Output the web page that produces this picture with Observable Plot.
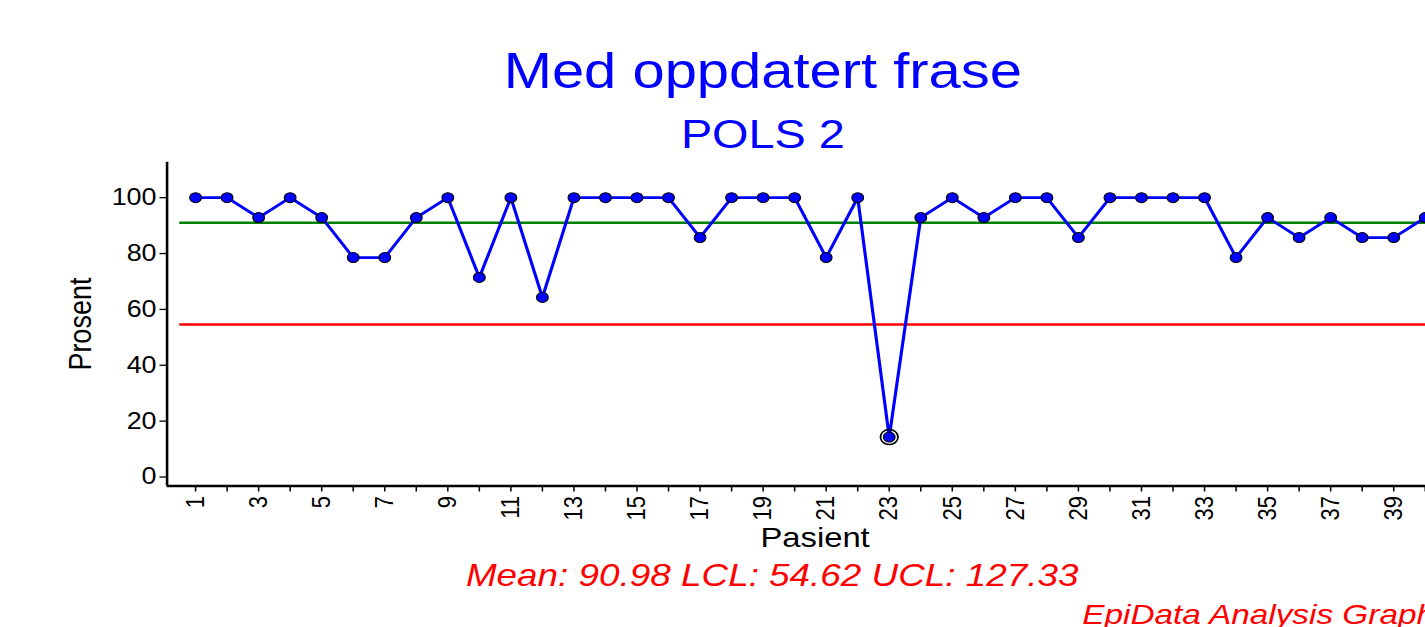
<!DOCTYPE html>
<html>
<head>
<meta charset="utf-8">
<script src="https://cdn.jsdelivr.net/npm/d3@7"></script>
<script src="https://cdn.jsdelivr.net/npm/@observablehq/plot@0.6"></script>
<style>
  html, body { margin: 0; padding: 0; background: #fff; overflow: hidden; width: 1425px; height: 627px; }
  #wrap { position: relative; width: 1250px; height: 627px; transform: scaleX(1.17); transform-origin: 0 0;
          font-family: "Liberation Sans", Arial, sans-serif; }
  .t { position: absolute; white-space: nowrap; line-height: 1; }
  #title { top: 46px; left: 152px; width: 1000px; text-align: center; font-size: 49.5px; color: #0000ff; }
  #subtitle { top: 114px; left: 152px; width: 1000px; text-align: center; font-size: 40px; color: #0000ff; }
  #chart { position: absolute; top: 150px; left: 0; }
  #stats { top: 560px; left: 160px; width: 1000px; text-align: center; font-size: 31.5px; font-style: italic; color: #ff0000; }
  #credit { top: 600px; left: 925px; font-size: 28.5px; font-style: italic; color: #ff0000; }
</style>
</head>
<body>
<div id="wrap">
  <div class="t" id="title">Med oppdatert frase</div>
  <div class="t" id="subtitle">POLS 2</div>
  <div id="chart"></div>
  <div class="t" id="stats"></div>
  <div class="t" id="credit">EpiData Analysis Graph</div>
</div>
<script>
// Data (percent of 14 items)
const pasient = [1,2,3,4,5,6,7,8,9,10,11,12,13,14,15,16,17,18,19,20,21,22,23,24,25,26,27,28,29,30,31,32,33,34,35,36,37,38,39,40];
const prosent = [100,100,92.86,100,92.86,78.57,78.57,92.86,100,71.43,
                 100,64.29,100,100,100,100,85.71,100,100,100,
                 78.57,100,14.29,92.86,100,92.86,100,100,85.71,100,
                 100,100,100,78.57,92.86,85.71,92.86,85.71,85.71,92.86];
const mean = 90.98;
const lcl = 54.62;
const ucl = 127.33;
const yTicks = [0, 20, 40, 60, 80, 100];
const xTicks = d3.range(1, 41);
const xDomain = [0.096, 41.2];
const yDomain = [-3.22, 112.7];

const data = pasient.map((p, i) => ({pasient: p, prosent: prosent[i]}));
const outliers = data.filter(d => d.prosent < lcl || d.prosent > ucl);

document.getElementById("stats").textContent =
  `Mean: ${mean.toFixed(2)} LCL: ${lcl.toFixed(2)} UCL: ${ucl.toFixed(2)}`;

const chart = Plot.plot({
  width: 1250,
  height: 405,
  marginLeft: 142.3,
  marginRight: 0,
  marginTop: 11.7,
  marginBottom: 69.5,
  style: {fontFamily: "'Liberation Sans', Arial, sans-serif", color: "black", background: "white", overflow: "visible"},
  x: {type: "linear", domain: xDomain, axis: null},
  y: {domain: yDomain, axis: null},
  marks: [
    Plot.ruleY([mean], {x1: 0.5, x2: xDomain[1], stroke: "#008000", strokeWidth: 2.5}),
    Plot.ruleY([lcl], {x1: 0.5, x2: xDomain[1], stroke: "#ff0000", strokeWidth: 2.5}),
    Plot.line(data, {x: "pasient", y: "prosent", stroke: "#0000ff", strokeWidth: 2.7}),
    Plot.dot(outliers, {x: "pasient", y: "prosent", r: 7.5, fill: "none", stroke: "black", strokeWidth: 1.5}),
    Plot.dot(data, {x: "pasient", y: "prosent", r: 5, fill: "#0000ff", stroke: "black", strokeWidth: 1}),
    Plot.axisY({ticks: yTicks, tickSize: 6, tickPadding: 3, fontSize: 23, label: null, stroke: "black", strokeWidth: 1.3}),
    Plot.axisX({ticks: xTicks, tickSize: 6, tickPadding: 4, tickRotate: -90, fontSize: 22, label: null,
                tickFormat: d => (d % 2 === 1 ? String(d) : ""), stroke: "black", strokeWidth: 1.3}),
    Plot.ruleX([xDomain[0]], {stroke: "black", strokeWidth: 2.2}),
    Plot.ruleY([yDomain[0]], {stroke: "black", strokeWidth: 2.6}),
    Plot.text(["Pasient"], {text: d => d, frameAnchor: "bottom", lineAnchor: "top", dy: 41.5, fontSize: 28, fill: "black"}),
    Plot.text(["Prosent"], {text: d => d, frameAnchor: "left", textAnchor: "middle", rotate: -90, dx: -74, fontSize: 27, fill: "black"})
  ]
});
document.getElementById("chart").appendChild(chart);
</script>
</body>
</html>
